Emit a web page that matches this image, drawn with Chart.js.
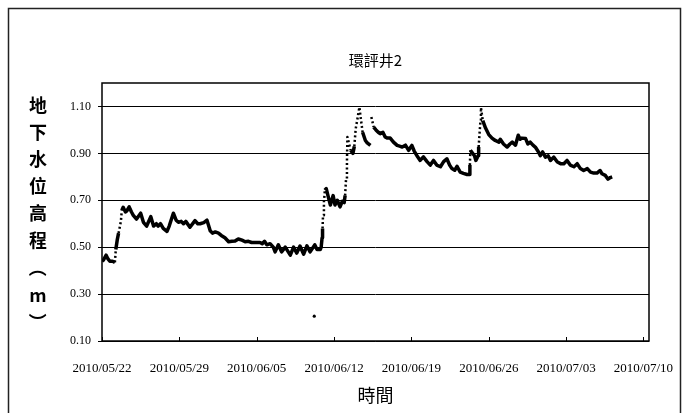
<!DOCTYPE html>
<html>
<head>
<meta charset="utf-8">
<script src="https://cdn.jsdelivr.net/npm/chart.js@4"></script>
<style>
  html, body { margin: 0; padding: 0; background: #fff; }
  #wrap { width: 686px; height: 413px; }
</style>
</head>
<body>
<div id="wrap"><canvas id="chart"></canvas></div>
<script>
const YEAR = 2010
const chartTitle = '環評井2'
const xAxisTitle = '時間'
// stacked vertical axis title; '（' and '）' are drawn turned a quarter turn
const yAxisTitle = ['地', '下', '水', '位', '高', '程', '（', 'm', '）']

// observation time (MM/DD HH:mm) and groundwater level (m); null = no record
const times = [
  '05/22 00:00', '05/22 03:00', '05/22 09:00', '05/22 13:00', '05/22 17:00', '05/22 23:00',
  '05/23 04:00', '05/23 06:00', '05/23 09:00', '05/23 12:00', '05/23 17:00', '05/23 19:00', '05/23 22:00',
  '05/24 03:00', '05/24 06:00', '05/24 11:00', '05/24 16:00', '05/24 20:00',
  '05/25 03:00', '05/25 12:00', '05/25 18:00',
  '05/26 01:00', '05/26 10:00', '05/26 16:00', '05/26 22:00',
  '05/27 02:00', '05/27 07:00', '05/27 13:00', '05/27 21:00',
  '05/28 02:00', '05/28 11:00', '05/28 17:00', '05/28 22:00',
  '05/29 04:00', '05/29 09:00', '05/29 14:00', '05/29 23:00',
  '05/30 10:00', '05/30 16:00', '05/30 21:00',
  '05/31 05:00', '05/31 12:00', '05/31 19:00',
  '06/01 00:00', '06/01 06:00', '06/01 13:00', '06/01 19:00',
  '06/02 03:00', '06/02 11:00', '06/02 18:00',
  '06/03 01:00', '06/03 08:00', '06/03 16:00', '06/03 23:00',
  '06/04 06:00', '06/04 13:00', '06/04 22:00',
  '06/05 07:00', '06/05 12:00', '06/05 17:00', '06/05 22:00',
  '06/06 05:00', '06/06 12:00', '06/06 16:00', '06/06 23:00',
  '06/07 06:00', '06/07 14:00',
  '06/08 01:00', '06/08 08:00', '06/08 15:00', '06/08 22:00',
  '06/09 06:00', '06/09 13:00', '06/09 20:00',
  '06/10 06:00', '06/10 11:00', '06/10 18:00', '06/10 20:00', '06/10 22:00', '06/10 23:00',
  '06/11 00:00', '06/11 02:00', '06/11 04:00', '06/11 07:00', '06/11 12:00', '06/11 16:00', '06/11 22:00',
  '06/12 02:00', '06/12 07:00', '06/12 13:00', '06/12 18:00', '06/12 22:00',
  '06/13 00:00', '06/13 02:00', '06/13 04:00', '06/13 05:00', '06/13 12:00', '06/13 17:00', '06/13 20:00', '06/13 23:00',
  '06/14 03:00', '06/14 07:00', '06/14 10:00', '06/14 14:00', '06/14 20:00',
  '06/15 00:00', '06/15 07:00', '06/15 08:00', '06/15 09:00', '06/15 14:00', '06/15 19:00',
  '06/16 00:00', '06/16 04:00', '06/16 10:00', '06/16 15:00', '06/16 20:00',
  '06/17 02:00', '06/17 09:00', '06/17 17:00',
  '06/18 00:00', '06/18 04:00', '06/18 11:00', '06/18 18:00',
  '06/19 01:00', '06/19 06:00', '06/19 12:00', '06/19 19:00',
  '06/20 02:00', '06/20 10:00', '06/20 17:00',
  '06/21 00:00', '06/21 07:00', '06/21 15:00', '06/21 22:00',
  '06/22 05:00', '06/22 11:00', '06/22 16:00', '06/22 22:00',
  '06/23 03:00', '06/23 10:00', '06/23 17:00',
  '06/24 01:00', '06/24 06:00', '06/24 07:00', '06/24 08:00', '06/24 13:00', '06/24 17:00', '06/24 20:00',
  '06/25 01:00', '06/25 02:00', '06/25 04:00', '06/25 06:00', '06/25 07:00', '06/25 11:00', '06/25 17:00',
  '06/26 00:00', '06/26 07:00', '06/26 14:00', '06/26 22:00',
  '06/27 01:00', '06/27 08:00', '06/27 16:00', '06/27 22:00',
  '06/28 03:00', '06/28 10:00', '06/28 16:00', '06/28 20:00',
  '06/29 00:00', '06/29 08:00', '06/29 13:00', '06/29 18:00',
  '06/30 00:00', '06/30 05:00', '06/30 12:00', '06/30 16:00', '06/30 21:00',
  '07/01 03:00', '07/01 09:00', '07/01 14:00', '07/01 21:00',
  '07/02 05:00', '07/02 12:00', '07/02 19:00',
  '07/03 02:00', '07/03 09:00', '07/03 17:00',
  '07/04 00:00', '07/04 07:00', '07/04 14:00', '07/04 22:00',
  '07/05 05:00', '07/05 12:00', '07/05 19:00',
  '07/06 02:00', '07/06 06:00', '07/06 13:00', '07/06 19:00',
  '07/07 00:00', '07/07 04:00',
]
const levels = [
  0.44, 0.445, 0.466, 0.45, 0.44, 0.44,
  0.435, 0.49, 0.53, 0.56, 0.61, 0.657, 0.67,
  0.65, 0.655, 0.672, 0.65, 0.636,
  0.62, 0.645, 0.606,
  0.59, 0.63, 0.59, 0.60,
  0.59, 0.60, 0.58, 0.567,
  0.59, 0.645, 0.615, 0.606,
  0.61, 0.60, 0.61, 0.585,
  0.613, 0.60, 0.60,
  0.605, 0.615, 0.57,
  0.56, 0.565, 0.56, 0.55,
  0.54, 0.523, 0.525,
  0.526, 0.535, 0.53, 0.523,
  0.525, 0.52, 0.52,
  0.52, 0.515, 0.525, 0.51,
  0.515, 0.50, 0.48, 0.51,
  0.48, 0.50,
  0.466, 0.50, 0.475, 0.505,
  0.47, 0.506, 0.48,
  0.51, 0.49, 0.49, 0.50, 0.54, 0.58,
  0.636, 0.693, 0.743, 0.75, 0.71, 0.68, 0.72,
  0.68, 0.70, 0.672, 0.696, 0.69,
  0.72, 0.79, 0.863, 0.97, 0.913, 0.90, 0.93, 1.005,
  1.05, 1.097, 1.05, 0.99, 0.955,
  0.945, 0.934, null, 1.055, 1.012, 1.00,
  0.99, 0.984, 0.99, 0.97, 0.965,
  0.965, 0.948, 0.934,
  0.93, 0.927, 0.935, 0.913,
  0.934, 0.91, 0.89, 0.87,
  0.885, 0.865, 0.85,
  0.87, 0.85, 0.843, 0.865,
  0.877, 0.85, 0.835, 0.828,
  0.845, 0.82, 0.815,
  0.81, 0.81, 0.85, 0.913, 0.90, 0.89, 0.87,
  0.89, 0.927, 0.985, 1.04, 1.095, 1.04, 1.008,
  0.98, 0.965, 0.955, 0.948,
  0.96, 0.94, 0.927, 0.94,
  0.948, 0.935, 0.977, 0.96,
  0.965, 0.963, 0.94, 0.948,
  0.935, 0.927, 0.906, 0.89, 0.906,
  0.884, 0.89, 0.87, 0.884,
  0.863, 0.856, 0.856,
  0.87, 0.85, 0.843,
  0.856, 0.835, 0.827, 0.835,
  0.82, 0.816, 0.816,
  0.827, 0.813, 0.806, 0.79,
  0.797, 0.80,
]

// single low reading on 06/10
const outlierTimes = ['06/10 05:00']
const outlierLevels = [0.206]

const xTicks = ['05/22', '05/29', '06/05', '06/12', '06/19', '06/26', '07/03', '07/10']
const yTicks = [0.1, 0.3, 0.5, 0.7, 0.9, 1.1]
const xMin = '05/22 00:00'
const xMax = '07/10 12:00'
const yMin = 0.1
const yMax = 1.2

const toDay = (s) => {
  const [md, hm = '00:00'] = s.split(' ')
  const [m, d] = md.split('/').map(Number)
  const [h, mi] = hm.split(':').map(Number)
  return Date.UTC(YEAR, m - 1, d, h, mi) / 864e5
}
const pad = (n) => String(n).padStart(2, '0')
const fmtDate = (v) => {
  const d = new Date(Math.round(v) * 864e5)
  return `${d.getUTCFullYear()}/${pad(d.getUTCMonth() + 1)}/${pad(d.getUTCDate())}`
}

const tickFont = { family: "'Liberation Serif', 'Times New Roman', serif", size: 12 }
const cjkFont = "'Noto Sans CJK TC', 'Noto Sans CJK SC', sans-serif"

// outer chart frame, plot box, inward x ticks, stacked y title
const decorations = {
  id: 'decorations',
  beforeDraw(chart) {
    const { ctx } = chart
    ctx.save()
    ctx.fillStyle = '#fff'
    ctx.fillRect(0, 0, chart.width, chart.height)
    ctx.restore()
  },
  afterDraw(chart) {
    const { ctx, chartArea: a, scales } = chart
    ctx.save()
    ctx.strokeStyle = '#222'
    ctx.lineWidth = 1.5
    ctx.strokeRect(8.5, 8.5, 672, chart.height + 20)

    ctx.strokeStyle = '#000'
    ctx.lineWidth = 1.5
    ctx.strokeRect(a.left, a.top, a.right - a.left, a.bottom - a.top)

    ctx.lineWidth = 1
    scales.x.ticks.forEach((t) => {
      const px = Math.round(scales.x.getPixelForValue(t.value)) + 0.5
      ctx.beginPath()
      ctx.moveTo(px, a.bottom)
      ctx.lineTo(px, a.bottom - 4)
      ctx.stroke()
    })

    ctx.fillStyle = '#000'
    ctx.font = `bold 18px ${cjkFont}`
    ctx.textAlign = 'center'
    ctx.textBaseline = 'middle'
    const step = (322 - 105) / (yAxisTitle.length - 1)
    yAxisTitle.forEach((ch, i) => {
      const y = 105 + i * step
      if (ch === '（' || ch === '）') {
        ctx.save()
        ctx.translate(38, y)
        ctx.rotate(Math.PI / 2)
        ctx.fillText(ch, 0, 0)
        ctx.restore()
      } else {
        ctx.fillText(ch, 38, y)
      }
    })
    ctx.restore()
  },
}

const steep = (ctx) => {
  const dy = Math.abs(ctx.p1.y - ctx.p0.y)
  const dx = Math.abs(ctx.p1.x - ctx.p0.x)
  return dy > 10 && dy > 4 * dx
}

new Chart(document.getElementById('chart'), {
  type: 'line',
  data: {
    datasets: [
      {
        label: chartTitle,
        data: times.map((t, i) => ({ x: toDay(t), y: levels[i] })),
        borderColor: '#000',
        backgroundColor: '#000',
        borderWidth: 3.5,
        pointRadius: 0,
        tension: 0,
        spanGaps: false,
        borderJoinStyle: 'round',
        segment: {
          borderDash: (ctx) => (steep(ctx) ? [2, 2.5] : undefined),
          borderWidth: (ctx) => (steep(ctx) ? 2.5 : undefined),
        },
      },
      {
        label: 'outlier',
        data: outlierTimes.map((t, i) => ({ x: toDay(t), y: outlierLevels[i] })),
        showLine: false,
        pointRadius: 1.6,
        pointBackgroundColor: '#000',
        pointBorderWidth: 0,
      },
    ],
  },
  options: {
    responsive: true,
    maintainAspectRatio: false,
    animation: false,
    layout: { padding: { left: 60, right: 37, top: 51, bottom: 5 } },
    plugins: {
      legend: { display: false },
      tooltip: { enabled: false },
      title: {
        display: true,
        fullSize: false,
        text: chartTitle,
        color: '#000',
        font: { family: cjkFont, size: 15, weight: 'normal' },
        padding: { top: 0, bottom: 14 },
      },
    },
    scales: {
      x: {
        type: 'linear',
        min: toDay(xMin),
        max: toDay(xMax),
        afterBuildTicks: (scale) => {
          scale.ticks = xTicks.map((s) => ({ value: toDay(s) }))
        },
        afterFit: (scale) => {
          scale.height = 67
        },
        grid: { display: false },
        border: { display: false },
        ticks: {
          color: '#000',
          font: { ...tickFont, size: 13 },
          padding: 12,
          maxRotation: 0,
          autoSkip: false,
          callback: (v) => fmtDate(v),
        },
        title: {
          display: true,
          text: xAxisTitle,
          color: '#000',
          font: { family: cjkFont, size: 18 },
          padding: { top: 4, bottom: 2 },
        },
      },
      y: {
        min: yMin,
        max: yMax,
        afterBuildTicks: (scale) => {
          scale.ticks = yTicks.map((v) => ({ value: v }))
        },
        afterFit: (scale) => {
          scale.width = 42
        },
        grid: { color: '#000', lineWidth: 1, tickLength: 4, drawTicks: true },
        border: { display: false },
        ticks: {
          color: '#000',
          font: tickFont,
          padding: 7,
          callback: (v) => v.toFixed(2),
        },
      },
    },
  },
  plugins: [decorations],
})
</script>
</body>
</html>
